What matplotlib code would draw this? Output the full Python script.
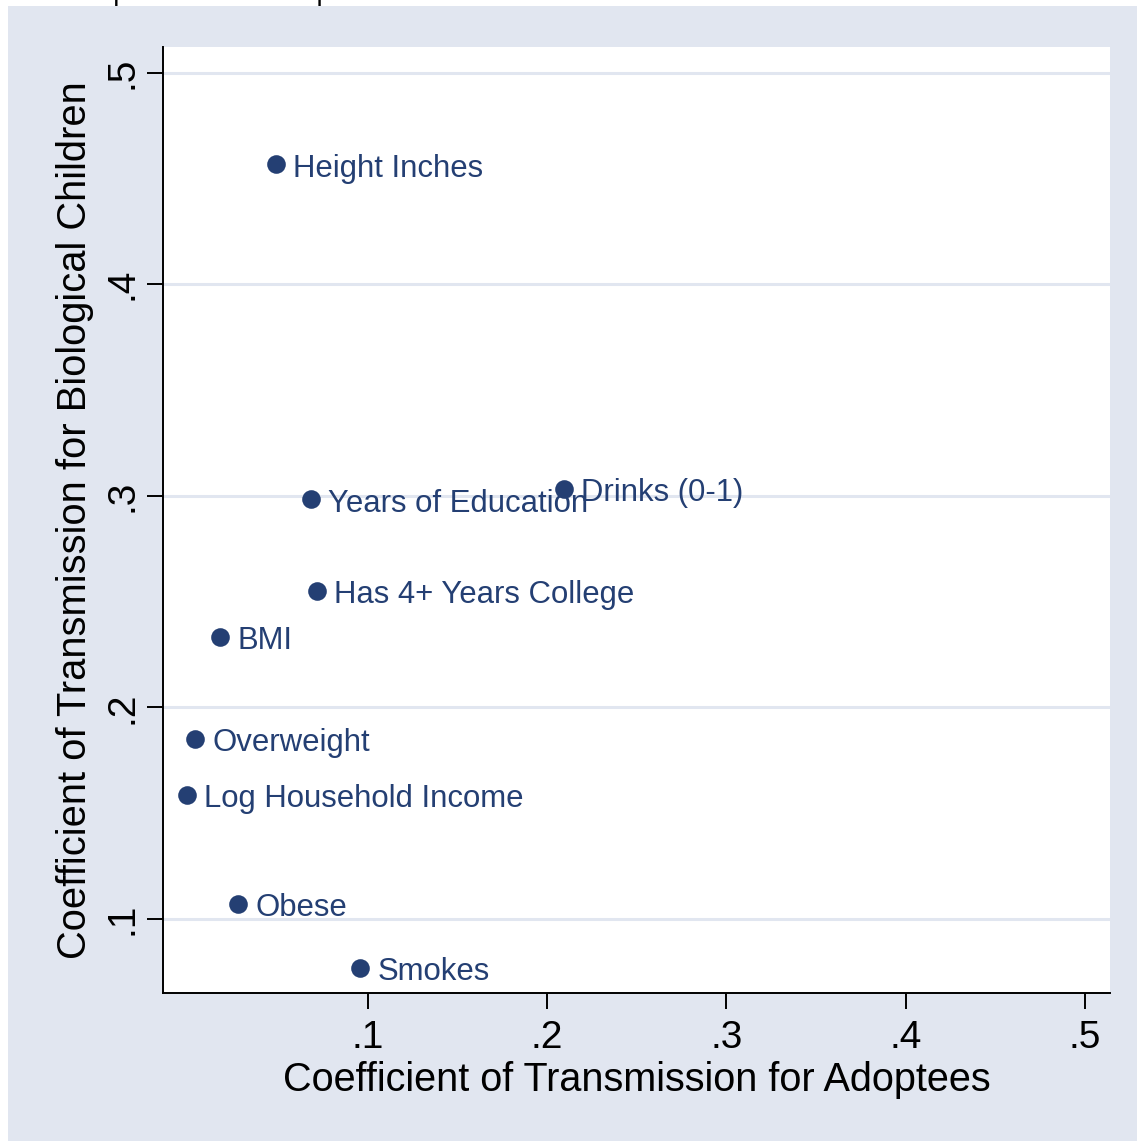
import matplotlib
matplotlib.use("Agg")
import matplotlib.pyplot as plt
from matplotlib.patches import Rectangle

plt.rcParams['font.family'] = ['Liberation Sans', 'DejaVu Sans']

# Transmission coefficients per outcome
labels = [
    "Height Inches", "Drinks (0-1)", "Years of Education",
    "Has 4+ Years College", "BMI", "Overweight",
    "Log Household Income", "Obese", "Smokes",
]
adoptees = [0.0487, 0.2094, 0.0682, 0.0716, 0.0175, 0.0035, -0.0010, 0.0275, 0.0956]
biological = [0.4567, 0.3032, 0.2984, 0.2550, 0.2333, 0.1851, 0.1586, 0.1071, 0.0769]

xticks = [0.1, 0.2, 0.3, 0.4, 0.5]
yticks = [0.1, 0.2, 0.3, 0.4, 0.5]
tick_text = [".1", ".2", ".3", ".4", ".5"]

navy = "#243F73"
graph_bg = "#E1E6F0"

W, H = 1137, 1141
fig = plt.figure(figsize=(W / 100, H / 100), dpi=100, facecolor="white")

# graph region behind the plot
fig.patches.append(Rectangle((8 / W, 0), 1 - 8 / W, 1 - 6 / H,
                             transform=fig.transFigure, facecolor=graph_bg,
                             edgecolor="none", zorder=-10))

# end of the note line from the page above
fig.text(27 / W, 1 - 0.3 / H, "for adoptees in the sample.", fontsize=20,
         va="baseline", ha="left", color="black")

ax = fig.add_axes([163 / W, 1 - 993 / H, (1110 - 163) / W, (993 - 46.5) / H])
ax.set_facecolor("white")

ax.scatter(adoptees, biological, s=180, color=navy, zorder=3, linewidths=0)
for lab, x, y in zip(labels, adoptees, biological):
    ax.annotate(lab, (x, y), xytext=(12.5, -8.9), textcoords="offset points",
                ha="left", va="baseline", fontsize=22.4, color=navy, zorder=4)

ax.set_xlim(-0.0144, 0.514)
ax.set_ylim(0.065, 0.5124)

ax.set_xticks(xticks)
ax.set_xticklabels(tick_text)
ax.set_yticks(yticks)
ax.set_yticklabels(tick_text, rotation=90, va="center")

ax.yaxis.grid(True, color=graph_bg, linewidth=2.2)
ax.xaxis.grid(False)
ax.set_axisbelow(True)

for side in ["top", "right"]:
    ax.spines[side].set_visible(False)
for side in ["left", "bottom"]:
    ax.spines[side].set_linewidth(1.4)
    ax.spines[side].set_color("black")

ax.tick_params(axis="both", length=11.5, width=1.4, labelsize=28, colors="black")
ax.tick_params(axis="x", pad=8)
ax.tick_params(axis="y", pad=5)

fig.text(637 / W, 1 - 1080 / H, "Coefficient of Transmission for Adoptees",
         fontsize=28.5, ha="center", va="center")
fig.text(75 / W, 1 - 520 / H, "Coefficient of Transmission for Biological Children",
         fontsize=28.7, ha="center", va="center", rotation=90)

fig.savefig("out.png", dpi=100)
